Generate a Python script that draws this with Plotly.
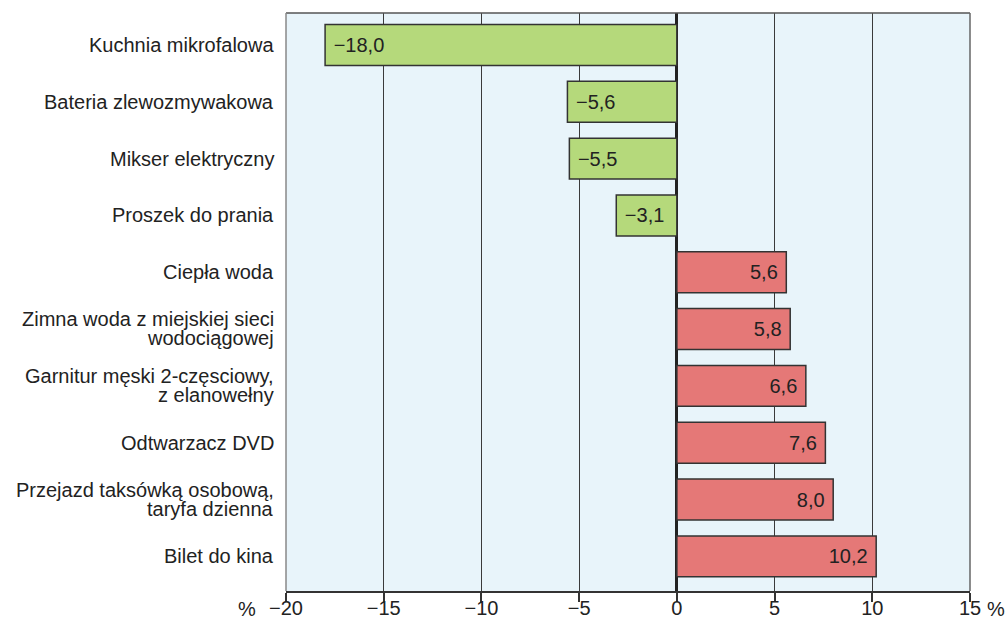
import plotly.graph_objects as go

categories = [
    "Kuchnia mikrofalowa",
    "Bateria zlewozmywakowa",
    "Mikser elektryczny",
    "Proszek do prania",
    "Ciepła woda",
    "Zimna woda z miejskiej sieci\nwodociągowej",
    "Garnitur męski 2-częsciowy,\nz elanowełny",
    "Odtwarzacz DVD",
    "Przejazd taksówką osobową,\ntaryfa dzienna",
    "Bilet do kina",
]
values = [-18.0, -5.6, -5.5, -3.1, 5.6, 5.8, 6.6, 7.6, 8.0, 10.2]
tick_vals = [-20, -15, -10, -5, 0, 5, 10, 15]
tick_text = ["\u221220", "\u221215", "\u221210", "\u22125", "0", "5", "10", "15"]

GREEN = "#b5d97b"
RED = "#e57877"
FONT = "Liberation Sans, Arial, sans-serif"
NB = "\u00a0"

colors = [GREEN if v < 0 else RED for v in values]
idx = list(range(len(categories)))


def fmt(v):
    s = f"{abs(v):.1f}".replace(".", ",")
    return (NB + "\u2212" + s) if v < 0 else (s + NB)


labels = [fmt(v) for v in values]

fig = go.Figure()
fig.add_trace(go.Bar(
    y=idx, x=values, orientation="h",
    marker=dict(color=colors, line=dict(color="#333333", width=1.5)),
    width=0.72,
    text=labels,
    textposition="inside",
    insidetextanchor="end",
    textfont=dict(family=FONT, size=20, color="#222222"),
    hoverinfo="skip",
    showlegend=False,
))

annotations = []
for i, lab in enumerate(categories):
    lines = lab.split("\n")
    shifts = [0] if len(lines) == 1 else [10, -9]
    for ln, s in zip(lines, shifts):
        annotations.append(dict(
            x=0, xref="paper", xanchor="right", xshift=-10,
            y=i, yref="y", yanchor="middle", yshift=s,
            text=ln, showarrow=False,
            font=dict(family=FONT, size=20, color="#222222"),
        ))
annotations.append(dict(x=-20, xref="x", y=0, yref="paper", yanchor="top", yshift=-5,
                        xanchor="right", xshift=-28, text="%", showarrow=False,
                        font=dict(family=FONT, size=20, color="#222222")))
annotations.append(dict(x=15, xref="x", y=0, yref="paper", yanchor="top", yshift=-5,
                        xanchor="left", xshift=15, text="%", showarrow=False,
                        font=dict(family=FONT, size=20, color="#222222")))

fig.update_layout(
    width=1005, height=628,
    margin=dict(l=286, r=35, t=13, b=37, autoexpand=False),
    paper_bgcolor="white",
    plot_bgcolor="#e8f4fa",
    font=dict(family=FONT, size=20, color="#222222"),
    xaxis=dict(
        range=[-20, 15],
        tickvals=tick_vals, ticktext=tick_text,
        showgrid=True, gridcolor="#3a3a3a", gridwidth=1,
        zeroline=True, zerolinecolor="#222222", zerolinewidth=2.5,
        showline=True, linecolor="#333333", linewidth=2,
        ticks="outside", ticklen=9, tickwidth=2, tickcolor="#333333",
        ticklabelstandoff=-11,
        tickfont=dict(family=FONT, size=20, color="#222222"),
        automargin=False,
        fixedrange=True,
    ),
    yaxis=dict(
        range=[9.61, -0.563],
        showticklabels=False, showgrid=False, zeroline=False,
        ticks="", automargin=False, fixedrange=True,
    ),
    annotations=annotations,
    shapes=[
        dict(type="line", xref="paper", yref="paper", x0=0, x1=1, y0=1, y1=1,
             line=dict(color="#555555", width=1.5), layer="above"),
        dict(type="line", xref="paper", yref="paper", x0=0, x1=0, y0=0, y1=1,
             line=dict(color="#888888", width=1.5), layer="above"),
        dict(type="line", xref="paper", yref="paper", x0=1, x1=1, y0=0, y1=1,
             line=dict(color="#666666", width=1.5), layer="above"),
    ],
)

fig.write_html(
    "out.html",
    config={"displayModeBar": False},
    post_script="document.body.style.margin='0';document.body.style.overflow='hidden';",
)
